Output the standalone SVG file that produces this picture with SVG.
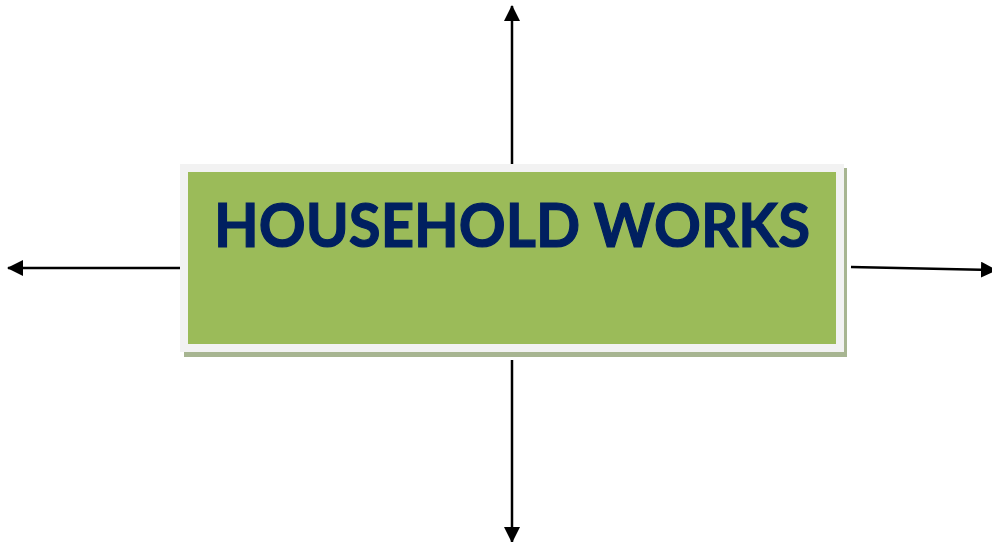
<svg xmlns="http://www.w3.org/2000/svg" width="992" height="542" viewBox="0 0 992 542">
<style>
.ln{stroke:#000;stroke-width:2.5;fill:none}
.ttl{font-family:Lato,"Liberation Sans",sans-serif;font-weight:bold;font-size:62px;fill:#002060;stroke:#002060;stroke-width:1.2}
</style>
<defs>
<marker id="ah" viewBox="0 0 16 16" refX="15" refY="8" markerWidth="16" markerHeight="16" markerUnits="userSpaceOnUse" orient="auto">
<path d="M0,0 L16,8 L0,16 Z" fill="#000"/>
</marker>
</defs>
<rect width="992" height="542" fill="#fff"/>
<g id="connectors">
<line class="ln" x1="512" y1="170" x2="512" y2="6" marker-end="url(#ah)"/>
<line class="ln" x1="512" y1="360" x2="512" y2="542" marker-end="url(#ah)"/>
<line class="ln" x1="185" y1="268" x2="8" y2="268" marker-end="url(#ah)"/>
<line class="ln" x1="851" y1="267" x2="996" y2="270" marker-end="url(#ah)"/>
</g>
<g id="household-works">
<rect x="184" y="168" width="663" height="189" fill="#a7b591"/>
<rect x="180" y="164" width="664" height="188" fill="#f2f2f2"/>
<rect x="188" y="172" width="648" height="172" fill="#9bbb59"/>
<text class="ttl" x="512" y="247" text-anchor="middle" textLength="596" lengthAdjust="spacingAndGlyphs">HOUSEHOLD WORKS</text>
</g>
</svg>
